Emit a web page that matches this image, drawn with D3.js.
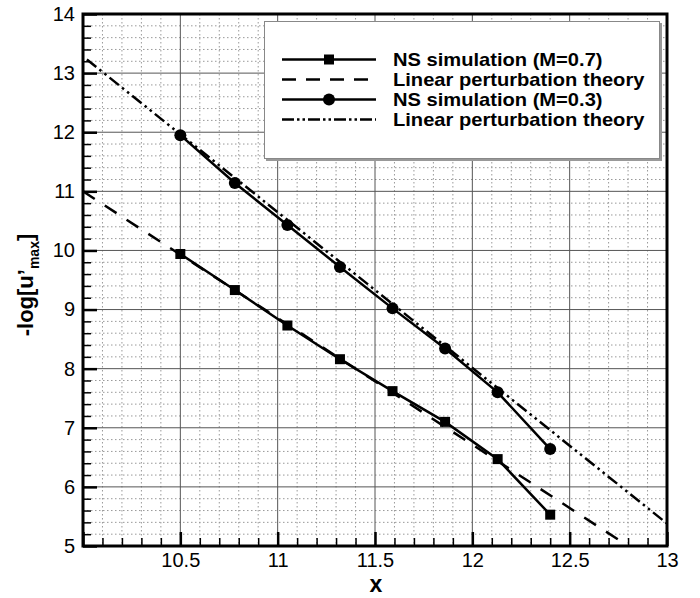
<!DOCTYPE html>
<html>
<head>
<meta charset="utf-8">
<script src="https://cdn.jsdelivr.net/npm/d3@7"></script>
<style>
  body { margin: 0; background: #fff; }
  svg { display: block; font-family: "Liberation Sans", Arial, sans-serif; }
</style>
</head>
<body>
<svg id="chart" width="700" height="598"></svg>
<script>
// Sampling positions of the NS simulations
const xNS = [10.50, 10.78, 11.05, 11.32, 11.59, 11.86, 12.13, 12.40]
// -log[u'max] for M=0.7 (squares) and M=0.3 (circles)
const yM07 = [9.94, 9.33, 8.73, 8.16, 7.62, 7.10, 6.47, 5.53]
const yM03 = [11.95, 11.14, 10.43, 9.72, 9.02, 8.34, 7.60, 6.64]
// Linear perturbation theory lines (end points)
const theoryM07X = [10.0, 12.8]
const theoryM07Y = [11.0, 5.0]
const theoryM03X = [10.02, 13.0]
const theoryM03Y = [13.23, 5.38]

// Tick values
const xMajor = [10, 10.5, 11, 11.5, 12, 12.5, 13]
const xLabels = ['', '10.5', '11', '11.5', '12', '12.5', '13']
const yMajor = [5, 6, 7, 8, 9, 10, 11, 12, 13, 14]

const legendLabels = [
  'NS simulation (M=0.7)',
  'Linear perturbation theory',
  'NS simulation (M=0.3)',
  'Linear perturbation theory'
]

const svg = d3.select('#chart')
const plotLeft = 83, plotRight = 667, plotTop = 14, plotBottom = 546

const x = d3.scaleLinear().domain([10, 13]).range([plotLeft, plotRight])
const y = d3.scaleLinear().domain([5, 14]).range([plotBottom, plotTop])

// Minor grid values
const xMinor = d3.range(101, 130).map(v => v / 10).filter(v => Math.abs(v * 2 - Math.round(v * 2)) > 1e-6)
const yMinor = d3.range(26, 70).map(v => v / 5).filter(v => Math.abs(v - Math.round(v)) > 1e-6)

// Minor dotted grid
const grid = svg.append('g')
grid.selectAll('.vmin').data(xMinor).join('line')
  .attr('x1', d => x(d)).attr('x2', d => x(d))
  .attr('y1', plotTop).attr('y2', plotBottom)
  .attr('stroke', '#999').attr('stroke-width', 1).attr('stroke-dasharray', '1.5,2.5')
grid.selectAll('.hmin').data(yMinor).join('line')
  .attr('x1', plotLeft).attr('x2', plotRight)
  .attr('y1', d => y(d)).attr('y2', d => y(d))
  .attr('stroke', '#999').attr('stroke-width', 1).attr('stroke-dasharray', '1.5,2.5')

// Major solid grid
grid.selectAll('.vmaj').data(xMajor.slice(1, -1)).join('line')
  .attr('x1', d => x(d)).attr('x2', d => x(d))
  .attr('y1', plotTop).attr('y2', plotBottom)
  .attr('stroke', '#555').attr('stroke-width', 1)
grid.selectAll('.hmaj').data(yMajor.slice(1, -1)).join('line')
  .attr('x1', plotLeft).attr('x2', plotRight)
  .attr('y1', d => y(d)).attr('y2', d => y(d))
  .attr('stroke', '#555').attr('stroke-width', 1)

// Axes: inward ticks
const xAxisMinor = d3.axisBottom(x).tickValues(xMinor).tickSize(-8).tickFormat('')
const yAxisMinor = d3.axisLeft(y).tickValues(yMinor).tickSize(-8).tickFormat('')
const xAxis = d3.axisBottom(x).tickValues(xMajor).tickSize(-14).tickPadding(7)
  .tickFormat((d, i) => xLabels[i])
const yAxis = d3.axisLeft(y).tickValues(yMajor).tickSize(-14).tickPadding(8)

function styleAxis (g, w) {
  g.select('.domain').remove()
  g.selectAll('line').attr('stroke', '#000').attr('stroke-width', w)
  g.selectAll('text').attr('fill', '#000').style('font-size', '20px')
}

svg.append('g').attr('transform', `translate(0,${plotBottom})`).call(xAxisMinor).call(g => styleAxis(g, 1.5))
svg.append('g').attr('transform', `translate(${plotLeft},0)`).call(yAxisMinor).call(g => styleAxis(g, 1.5))
svg.append('g').attr('transform', `translate(0,${plotBottom})`).call(xAxis).call(g => styleAxis(g, 2.5))
svg.append('g').attr('transform', `translate(${plotLeft},0)`).call(yAxis).call(g => styleAxis(g, 2.5))

// Clip for data
svg.append('clipPath').attr('id', 'clip')
  .append('rect').attr('x', plotLeft).attr('y', plotTop)
  .attr('width', plotRight - plotLeft).attr('height', plotBottom - plotTop)

const plot = svg.append('g').attr('clip-path', 'url(#clip)')
const line = d3.line().x(d => x(d[0])).y(d => y(d[1]))

plot.append('path')
  .datum(d3.zip(theoryM07X, theoryM07Y))
  .attr('d', line).attr('fill', 'none').attr('stroke', '#000')
  .attr('stroke-width', 2.5).attr('stroke-dasharray', '14,12')

plot.append('path')
  .datum(d3.zip(theoryM03X, theoryM03Y))
  .attr('d', line).attr('fill', 'none').attr('stroke', '#000')
  .attr('stroke-width', 2.5).attr('stroke-dasharray', '12,4,2.5,4,2.5,4')

plot.append('path')
  .datum(d3.zip(xNS, yM07))
  .attr('d', line).attr('fill', 'none').attr('stroke', '#000').attr('stroke-width', 2.5)

plot.append('path')
  .datum(d3.zip(xNS, yM03))
  .attr('d', line).attr('fill', 'none').attr('stroke', '#000').attr('stroke-width', 2.5)

plot.selectAll('.sq').data(d3.zip(xNS, yM07)).join('rect')
  .attr('x', d => x(d[0]) - 5).attr('y', d => y(d[1]) - 5)
  .attr('width', 10).attr('height', 10).attr('fill', '#000')

plot.selectAll('.ci').data(d3.zip(xNS, yM03)).join('circle')
  .attr('cx', d => x(d[0])).attr('cy', d => y(d[1]))
  .attr('r', 6).attr('fill', '#000')

// Legend box with shadow
const lg = svg.append('g')
lg.append('rect').attr('x', 266).attr('y', 23).attr('width', 396).attr('height', 138).attr('fill', '#999')
lg.append('rect').attr('x', 264.5).attr('y', 21.5).attr('width', 395).attr('height', 137)
  .attr('fill', '#fff').attr('stroke', '#888').attr('stroke-width', 1)

const legendStyles = ['none', '14,10', 'none', '12,3,2.5,3,2.5,3']
const legendMarks = ['square', null, 'circle', null]
legendLabels.forEach((label, i) => {
  const ly = 59.5 + i * 20
  lg.append('line').attr('x1', 282).attr('x2', 376).attr('y1', ly).attr('y2', ly)
    .attr('stroke', '#000').attr('stroke-width', 2.5)
    .attr('stroke-dasharray', legendStyles[i] === 'none' ? null : legendStyles[i])
  if (legendMarks[i] === 'square') {
    lg.append('rect').attr('x', 324).attr('y', ly - 5).attr('width', 10).attr('height', 10).attr('fill', '#000')
  } else if (legendMarks[i] === 'circle') {
    lg.append('circle').attr('cx', 329).attr('cy', ly).attr('r', 6).attr('fill', '#000')
  }
  // The original font is wider than Arial, so stretch horizontally
  lg.append('text').attr('transform', `translate(393,${ly + 6.5}) scale(1.15,1)`)
    .style('font-size', '17.5px').style('font-weight', 'bold')
    .text(label)
})

// Plot frame
svg.append('rect').attr('x', plotLeft).attr('y', plotTop)
  .attr('width', plotRight - plotLeft).attr('height', plotBottom - plotTop)
  .attr('fill', 'none').attr('stroke', '#000').attr('stroke-width', 3)

// Axis titles
svg.append('text').attr('x', x(11.5) + 1).attr('y', 592)
  .attr('text-anchor', 'middle').style('font-size', '23px').style('font-weight', 'bold').text('x')

const yt = svg.append('text')
  .attr('transform', 'translate(33,285) rotate(-90)')
  .attr('text-anchor', 'middle').style('font-size', '22px').style('font-weight', 'bold')
yt.append('tspan').text('-log[u’')
yt.append('tspan').attr('dy', 6).style('font-size', '14px').text('max')
yt.append('tspan').attr('dy', -6).text(']')
</script>
</body>
</html>
